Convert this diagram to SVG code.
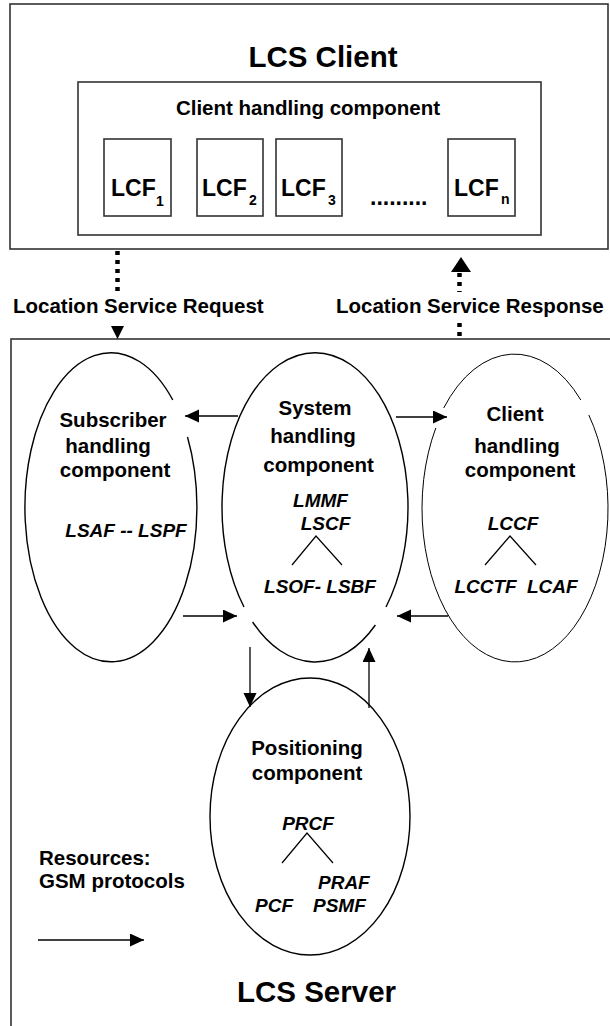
<svg xmlns="http://www.w3.org/2000/svg" width="610" height="1026" viewBox="0 0 610 1026">
<style>
text{font-family:"Liberation Sans",Arial,sans-serif;font-weight:bold;fill:#000}
.big{font-size:29.5px}
.mid{font-size:20.5px}
.it{font-size:19px;font-style:italic}
.lcf{font-size:23px}
.sub{font-size:14px}
.box{fill:none;stroke:#333;stroke-width:1.6}
.ell{fill:none;stroke:#000;stroke-width:1.4}
.ell2{fill:none;stroke:#000;stroke-width:1}
.ln{fill:none;stroke:#000;stroke-width:1.2}
.conn{fill:none;stroke:#000;stroke-width:1.3}
.dot{fill:none;stroke:#000;stroke-width:4.5;stroke-dasharray:4 5}
</style>
<defs>
<marker id="ah" markerUnits="userSpaceOnUse" markerWidth="15" markerHeight="14" refX="14" refY="6.5" orient="auto">
<path d="M0,0 L14,6.5 L0,13 z" fill="#000"/>
</marker>
</defs>
<rect width="610" height="1026" fill="#fff"/>

<g id="lcs-client">
<rect class="box" x="10" y="4" width="598" height="245"/>
<text class="big" x="323" y="67" text-anchor="middle">LCS Client</text>
</g>
<g id="client-handling-box">
<rect class="box" x="78" y="82" width="463" height="153"/>
<text class="mid" x="308" y="115" text-anchor="middle">Client handling component</text>
</g>
<g id="lcf1">
<rect class="box" x="104" y="139" width="67" height="77"/>
<text class="lcf" x="111" y="196">LCF</text>
<text class="sub" x="156" y="206">1</text>
</g>
<g id="lcf2">
<rect class="box" x="197" y="139" width="66" height="77"/>
<text class="lcf" x="202" y="196">LCF</text>
<text class="sub" x="249" y="205">2</text>
</g>
<g id="lcf3">
<rect class="box" x="276" y="139" width="66" height="77"/>
<text class="lcf" x="281" y="196">LCF</text>
<text class="sub" x="328" y="205">3</text>
</g>
<g id="lcf-dots">
<text class="lcf" x="370" y="205">.........</text>
</g>
<g id="lcfn">
<rect class="box" x="448" y="139" width="67" height="77"/>
<text class="lcf" x="454" y="196">LCF</text>
<text class="sub" x="501" y="204">n</text>
</g>

<g id="lcs-server">
<rect class="box" x="11" y="339" width="700" height="800"/>
<text class="big" x="316.5" y="1002" text-anchor="middle">LCS Server</text>
</g>

<g id="subscriber">
<path class="ell" d="M187.5,437 A86,154.5 0 1 1 172.8,400"/>
<text class="mid" x="113" y="427" text-anchor="middle">Subscriber</text>
<text class="mid" x="108" y="453" text-anchor="middle">handling</text>
<text class="mid" x="115" y="477" text-anchor="middle">component</text>
<text class="it" x="126" y="537" text-anchor="middle">LSAF -- LSPF</text>
</g>

<g id="system">
<path class="ell" d="M244,607 A93,154.5 0 1 1 386,607 M375.4,625 A93,154.5 0 0 1 252.6,622"/>
<text class="mid" x="315" y="415" text-anchor="middle">System</text>
<text class="mid" x="313" y="443" text-anchor="middle">handling</text>
<text class="mid" x="318.5" y="472" text-anchor="middle">component</text>
<text class="it" x="320.5" y="507" text-anchor="middle">LMMF</text>
<text class="it" x="325.5" y="530" text-anchor="middle">LSCF</text>
<path class="ln" d="M292,565 L316,536 L342,565"/>
<text class="it" x="320" y="593" text-anchor="middle">LSOF- LSBF</text>
</g>

<g id="client">
<path class="ell2" d="M443.7,408 A93,153.5 0 0 1 580.8,400 M588.8,415 A93,153.5 0 1 1 435.8,428"/>
<text class="mid" x="515" y="421" text-anchor="middle">Client</text>
<text class="mid" x="517" y="453" text-anchor="middle">handling</text>
<text class="mid" x="520" y="477" text-anchor="middle">component</text>
<text class="it" x="513" y="530" text-anchor="middle">LCCF</text>
<path class="ln" d="M485,565 L510,536 L536,565"/>
<text class="it" x="516" y="593" text-anchor="middle">LCCTF <tspan dx="5">LCAF</tspan></text>
</g>

<g id="positioning">
<ellipse class="ell" cx="310" cy="816.5" rx="100" ry="138.5"/>
<text class="mid" x="307" y="755" text-anchor="middle">Positioning</text>
<text class="mid" x="307" y="780" text-anchor="middle">component</text>
<text class="it" x="308" y="830" text-anchor="middle">PRCF</text>
<path class="ln" d="M282,863 L307,833 L333,863"/>
<text class="it" x="318" y="889">PRAF</text>
<text class="it" x="255" y="912">PCF</text>
<text class="it" x="313" y="912">PSMF</text>
</g>

<g id="legend">
<text class="mid" x="39" y="865">Resources:</text>
<text class="mid" x="39" y="888">GSM protocols</text>
<line class="conn" x1="38" y1="940" x2="144" y2="940" marker-end="url(#ah)"/>
</g>

<g id="connectors">
<line class="dot" x1="117.5" y1="251" x2="117.5" y2="292"/>
<path d="M111,326 L124,326 L117.5,339 z" fill="#000"/>
<text class="mid" x="13" y="313">Location Service Request</text>
<line class="dot" x1="459.5" y1="273" x2="459.5" y2="292"/>
<path d="M451,272 L471,272 L461,257 z" fill="#000"/>
<line class="dot" x1="459.5" y1="323" x2="459.5" y2="340"/>
<text class="mid" x="336" y="313">Location Service Response</text>
<line class="conn" x1="238" y1="416" x2="185" y2="416" marker-end="url(#ah)"/>
<line class="conn" x1="396" y1="417" x2="447" y2="417" marker-end="url(#ah)"/>
<line class="conn" x1="183" y1="616" x2="237" y2="616" marker-end="url(#ah)"/>
<line class="conn" x1="448" y1="616" x2="397" y2="616" marker-end="url(#ah)"/>
<line class="conn" x1="250" y1="647" x2="250" y2="707" marker-end="url(#ah)"/>
<line class="conn" x1="369" y1="708" x2="369" y2="648" marker-end="url(#ah)"/>
</g>
</svg>
